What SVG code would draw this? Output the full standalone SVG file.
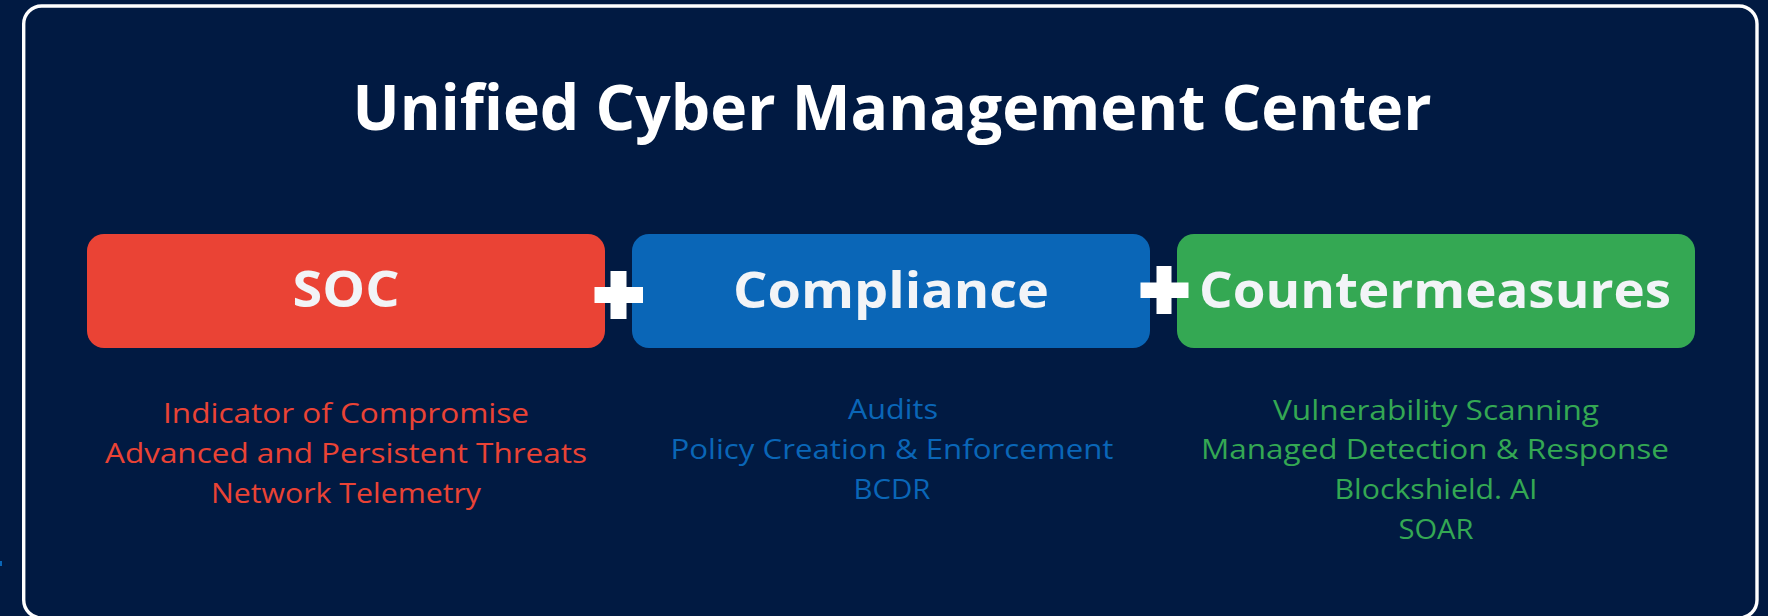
<svg xmlns="http://www.w3.org/2000/svg" width="1768" height="616" viewBox="0 0 1768 616">
<style>
.title{font-family:"Open Sans","Liberation Sans",sans-serif;font-weight:700;font-size:62px;fill:#FFFFFF;text-anchor:middle}
.head{font-family:"Open Sans","Liberation Sans",sans-serif;font-weight:700;font-size:50px;fill:#F2F4F7;text-anchor:middle}
.sub{font-family:"Open Sans","Liberation Sans",sans-serif;font-weight:400;font-size:28px;text-anchor:middle}
.red{fill:#EA4335}
.blue{fill:#0A66B7}
.green{fill:#34A853}
.plus{fill:#FFFFFF}
</style>
<rect x="0" y="0" width="1768" height="616" fill="#011A42"/>
<rect x="0" y="561" width="2" height="5" fill="#0A66B7"/>
<rect id="frame" x="23.7" y="6" width="1733.3" height="612" rx="18" fill="#011A42" stroke="#FFFFFF" stroke-width="3.4"/>
<text class="title" x="892" y="130" textLength="1079" lengthAdjust="spacingAndGlyphs">Unified Cyber Management Center</text>

<g id="soc">
<rect x="87" y="234" width="518" height="114" rx="17" class="red"/>
<text class="head" x="346" y="307" textLength="107" lengthAdjust="spacingAndGlyphs">SOC</text>
<text class="sub red" x="346" y="423" textLength="366" lengthAdjust="spacingAndGlyphs">Indicator of Compromise</text>
<text class="sub red" x="346" y="463" textLength="482" lengthAdjust="spacingAndGlyphs">Advanced and Persistent Threats</text>
<text class="sub red" x="346" y="503" textLength="270" lengthAdjust="spacingAndGlyphs">Network Telemetry</text>
</g>

<g id="compliance">
<rect x="632" y="234" width="518" height="114" rx="17" class="blue"/>
<text class="head" x="891" y="308" textLength="316" lengthAdjust="spacingAndGlyphs">Compliance</text>
<text class="sub blue" x="893" y="419" textLength="90" lengthAdjust="spacingAndGlyphs">Audits</text>
<text class="sub blue" x="892" y="459" textLength="443" lengthAdjust="spacingAndGlyphs">Policy Creation &amp; Enforcement</text>
<text class="sub blue" x="892" y="499" textLength="77" lengthAdjust="spacingAndGlyphs">BCDR</text>
</g>

<g id="countermeasures">
<rect x="1177" y="234" width="518" height="114" rx="17" class="green"/>
<text class="head" x="1435" y="308" textLength="472" lengthAdjust="spacingAndGlyphs">Countermeasures</text>
<text class="sub green" x="1436" y="420" textLength="326" lengthAdjust="spacingAndGlyphs">Vulnerability Scanning</text>
<text class="sub green" x="1435" y="459" textLength="468" lengthAdjust="spacingAndGlyphs">Managed Detection &amp; Response</text>
<text class="sub green" x="1436" y="499" textLength="203" lengthAdjust="spacingAndGlyphs">Blockshield. AI</text>
<text class="sub green" x="1436" y="539" textLength="75" lengthAdjust="spacingAndGlyphs">SOAR</text>
</g>

<g id="connectors">
<path class="plus" d="M610.5 271 H626.5 V287 H643 V303 H626.5 V319 H610.5 V303 H594.5 V287 H610.5 Z"/>
<path class="plus" d="M1156.5 266 H1171.5 V282.5 H1188.5 V298 H1171.5 V314 H1156.5 V298 H1140.5 V282.5 H1156.5 Z"/>
</g>
</svg>
